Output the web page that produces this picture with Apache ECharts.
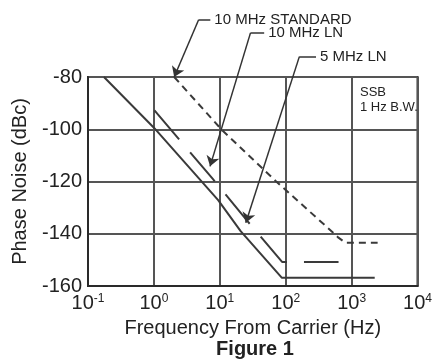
<!DOCTYPE html>
<html><head><meta charset="utf-8">
<script src="https://cdn.jsdelivr.net/npm/echarts@6/dist/echarts.min.js"></script>
<style>html,body{margin:0;padding:0;background:#fff}#c{width:435px;height:359px}</style>
</head><body><div id="c"></div>
<script>
// ---- data ----
const xExponents = ['-1', '0', '1', '2', '3', '4'];
const yTickValues = [-160, -140, -120, -100, -80];

// lower solid curve
const ln5Freq = [0.1746, 1.0, 9.44, 20.7, 86.9, 2240];
const ln5Db   = [-80, -99.4, -127.1, -139.0, -156.8, -156.8];
// upper long-dash curve
const ln10Freq = [1.02, 7.94, 26.3, 88, 633];
const ln10Db   = [-92.8, -119.2, -135.2, -150.8, -150.8];
// short-dash curve
const stdFreq = [2.03, 10.8, 71, 515, 631, 804, 2480];
const stdDb   = [-80, -100.3, -119.9, -139.4, -141.5, -143.4, -143.4];

// leader lines (text end -> tick -> arrow tip)
const leaderNames = ['10 MHz STANDARD', '10 MHz LN', '5 MHz LN'];
const leaderFreq = [[7.18, 4.77, 2.03], [47.1, 29.2, 7.11], [288, 161, 24.8]];
const leaderDb   = [[-58.1, -58.1, -80], [-63.1, -63.1, -114.2], [-72.2, -72.2, -135.8]];

const noteLines = ['SSB', '1 Hz B.W.'];

// ---- chart ----
const FONT = '"Liberation Sans", Arial, Helvetica, sans-serif';
const INK = '#222';
const chart = echarts.init(document.getElementById('c'), null, {renderer: 'canvas'});
const zip = (a, b) => a.map((v, i) => [v, b[i]]);

chart.setOption({
  backgroundColor: '#fff',
  animation: false,
  textStyle: {fontFamily: FONT},
  grid: {left: 88, right: 12, top: 77, bottom: 73, show: true, borderColor: '#2a2a2a', borderWidth: 2, backgroundColor: 'transparent'},
  xAxis: {
    type: 'log', logBase: 10, min: 0.1, max: 10000,
    axisLine: {show: true, lineStyle: {color: '#2a2a2a', width: 2}},
    axisTick: {show: false},
    splitLine: {show: true, lineStyle: {color: '#555', width: 2}},
    minorSplitLine: {show: false},
    axisLabel: {
      margin: 7, color: INK,
      formatter: v => {
        const e = Math.round(Math.log10(v));
        return '{b|10}{s|' + xExponents[e + 1] + '}';
      },
      rich: {
        b: {fontSize: 20, fontFamily: FONT, color: INK, lineHeight: 20},
        s: {fontSize: 12, fontFamily: FONT, color: INK, lineHeight: 12, verticalAlign: 'top'}
      }
    },
    name: 'Frequency From Carrier (Hz)', nameLocation: 'middle', nameGap: 32,
    nameTextStyle: {fontSize: 20, color: INK, fontFamily: FONT}
  },
  yAxis: {
    type: 'value', min: -160, max: -80, interval: 20,
    axisLine: {show: true, lineStyle: {color: '#2a2a2a', width: 2}},
    axisTick: {show: false},
    splitLine: {show: true, lineStyle: {color: '#555', width: 2}},
    axisLabel: {
      margin: 6, fontSize: 20, color: INK, fontFamily: FONT,
      formatter: v => (yTickValues.indexOf(v) >= 0 ? String(v) : '')
    },
    name: 'Phase Noise (dBc)', nameLocation: 'middle', nameGap: 58, nameRotate: 90,
    nameTextStyle: {fontSize: 20, color: INK, fontFamily: FONT}
  },
  series: [
    {name: '5 MHz LN', type: 'line', data: zip(ln5Freq, ln5Db), showSymbol: false, symbol: 'none',
     lineStyle: {color: '#3a3a3a', width: 2}, z: 3},
    {name: '10 MHz LN', type: 'line', data: zip(ln10Freq, ln10Db), showSymbol: false, symbol: 'none',
     lineStyle: {color: '#3a3a3a', width: 2, type: [38, 17]}, z: 3},
    {name: '10 MHz STANDARD', type: 'line', data: zip(stdFreq, stdDb), showSymbol: false, symbol: 'none',
     lineStyle: {color: '#3a3a3a', width: 2, type: [7, 5]}, z: 3},
    // leader ticks next to the texts
    {type: 'lines', coordinateSystem: 'cartesian2d', clip: false, silent: true,
     symbol: ['none', 'none'], z: 4,
     lineStyle: {color: '#333', width: 1.5, opacity: 1, curveness: 0},
     data: leaderNames.map((n, i) => ({name: n, coords: [[leaderFreq[i][0], leaderDb[i][0]], [leaderFreq[i][1], leaderDb[i][1]]]}))},
    // leader diagonals with arrow heads
    {type: 'lines', coordinateSystem: 'cartesian2d', clip: false, silent: true,
     symbol: ['none', 'arrow'], symbolSize: [7, 10], z: 4,
     lineStyle: {color: '#333', width: 1.5, opacity: 1, curveness: 0},
     data: leaderNames.map((n, i) => ({name: n, coords: [[leaderFreq[i][1], leaderDb[i][1]], [leaderFreq[i][2], leaderDb[i][2]]]}))}
  ]
});

// text annotations placed next to the leader lines
const g = leaderNames.map((n, i) => {
  const p = chart.convertToPixel({gridIndex: 0}, [leaderFreq[i][0], leaderDb[i][0]]);
  return {type: 'text', x: p[0] + 4, y: p[1],
    style: {text: n, fontSize: 15, fontFamily: FONT, fill: INK, verticalAlign: 'middle', align: 'left'}};
});
g.push({type: 'text', left: 360, top: 85,
  style: {text: noteLines.join('\n'), fontSize: 13, lineHeight: 15, fontFamily: FONT, fill: INK}});
g.push({type: 'text', x: 255, y: 349,
  style: {text: 'Figure 1', fontSize: 20, fontWeight: 'bold', fontFamily: FONT, fill: INK, align: 'center', verticalAlign: 'middle'}});
chart.setOption({graphic: g});
</script>
</body></html>
